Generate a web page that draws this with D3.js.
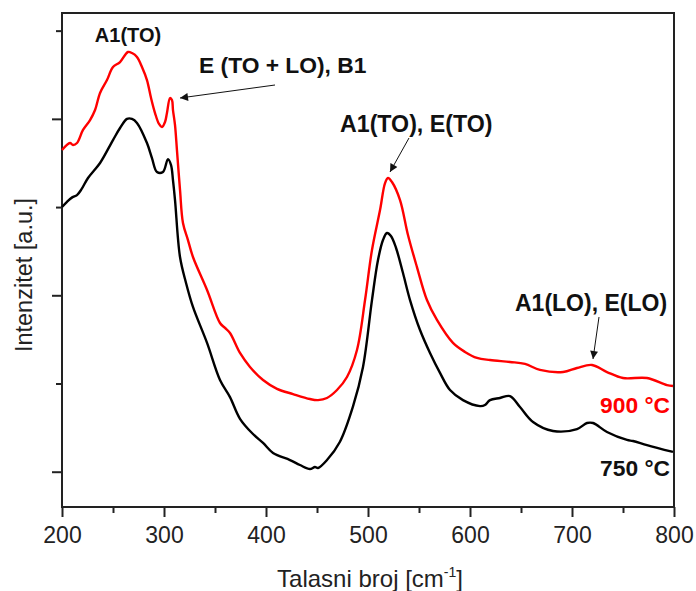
<!DOCTYPE html>
<html><head><meta charset="utf-8">
<script src="https://cdn.jsdelivr.net/npm/d3@7/dist/d3.min.js"></script>
<style>body{margin:0;background:#fff}svg{display:block}text{font-family:"Liberation Sans",Arial,sans-serif}</style>
</head><body><svg id="c" width="696" height="591"></svg>
<script>
// wavenumber (cm-1) and intensity (a.u.)
const wn750 = [200,204.9,210,214.7,219,225.5,237.3,250,256.9,263.7,268.6,273.5,283.3,288.2,293.1,299,303.9,306.9,308.8,310.8,315.7,321.6,328.4,342.2,354.9,364.7,374.5,387,397.1,406.9,423.5,433.3,443.1,448,451,459.8,472.5,485.3,495.1,503.9,509.8,514.7,518.6,522.5,527.5,534.3,541.2,551,560.8,570.6,580.4,593.1,609.8,614.7,619.6,629.4,639.2,649,661.8,681.4,704.9,714.7,720.6,734.3,753.9,759.8,773.5,799];
const int750 = [2500,2530,2555,2568,2600,2665,2750,2880,2948,3000,3000,2977,2863,2778,2699,2699,2772,2738,2653,2540,2217,2070,1934,1730,1520,1423,1300,1215,1163,1106,1066,1038,1015,1027,1021,1066,1170,1370,1594,1973,2200,2313,2353,2336,2268,2126,1973,1803,1673,1560,1463,1406,1372,1378,1406,1418,1429,1367,1282,1231,1242,1276,1276,1225,1180,1174,1151,1112];
const wn900 = [200,207.8,210.8,214.7,220.6,227.5,232.4,237.3,244.1,250,256.9,264.7,268.6,273.5,278.4,283.3,287.3,291.2,295.1,298,301,302.9,305.9,307.8,308.8,310.8,312.7,315.7,318.6,323.5,328.4,342.2,354.9,359.8,364.7,374.5,384.3,397.1,410.8,426.5,443.1,451,459.8,469.6,479.4,489.2,497.1,503.9,511.8,516.7,519.6,523.5,531.4,539.2,548,557.8,567.6,583.3,595.1,606.9,619.6,639.2,653.9,668.6,691.2,704.9,719.6,734.3,750,773.5,793.1,799];
const int900 = [2823,2863,2852,2863,2937,2993,3050,3147,3220,3294,3322,3379,3373,3351,3294,3220,3118,3033,2971,2954,2982,3033,3118,3107,3050,2965,2823,2597,2410,2313,2217,2030,1843,1815,1786,1673,1594,1520,1470,1440,1412,1406,1418,1463,1537,1690,1973,2257,2483,2636,2665,2642,2540,2342,2160,1973,1860,1730,1679,1645,1633,1622,1611,1577,1565,1588,1605,1565,1531,1531,1491,1486];
const xTicks = [200,300,400,500,600,700,800];
const xMinor = [250,350,450,550,650,750];
const yMajor = [1000,2000,3000];
const yMinor = [1500,2500,3500];

const svg = d3.select("#c");
const L = 62, R = 674, T = 13, B = 507;
const x = d3.scaleLinear().domain([200,800]).range([L,R]);
const y = d3.scaleLinear().domain([800,3600]).range([B,T]);

// frame
svg.append("rect").attr("x",L).attr("y",T).attr("width",R-L).attr("height",B-T)
  .attr("fill","none").attr("stroke","#222").attr("stroke-width",2);

// x axis
const gx = svg.append("g").attr("transform",`translate(0,${B})`)
  .call(d3.axisBottom(x).tickValues(xTicks).tickSize(10).tickPadding(10).tickFormat(d3.format("d")));
svg.append("g").attr("transform",`translate(0,${B})`)
  .call(d3.axisBottom(x).tickValues(xMinor).tickSize(6).tickFormat(""));
// y axis
svg.append("g").attr("transform",`translate(${L},0)`)
  .call(d3.axisLeft(y).tickValues(yMajor).tickSize(10).tickFormat(""));
svg.append("g").attr("transform",`translate(${L},0)`)
  .call(d3.axisLeft(y).tickValues(yMinor).tickSize(6).tickFormat(""));
svg.selectAll(".domain").remove();
svg.selectAll(".tick line").attr("stroke","#222").attr("stroke-width",2);
gx.selectAll(".tick text").attr("font-size",23).attr("fill","#222")
  .style("font-family","'Liberation Sans',Arial,sans-serif");

// curves
const line = d3.line().x(d=>x(d[0])).y(d=>y(d[1])).curve(d3.curveCatmullRom.alpha(0.5));
svg.append("path").datum(wn750.map((w,i)=>[w,int750[i]]))
  .attr("d",line).attr("fill","none").attr("stroke","#000").attr("stroke-width",2.4);
svg.append("path").datum(wn900.map((w,i)=>[w,int900[i]]))
  .attr("d",line).attr("fill","none").attr("stroke","#ff0000").attr("stroke-width",2.4);

// axis titles
svg.append("text").attr("x",370).attr("y",587).attr("text-anchor","middle")
  .attr("font-size",24).attr("fill","#222")
  .html('Talasni broj [cm<tspan dy="-10" font-size="14">-1</tspan><tspan dy="10">]</tspan>');
svg.append("text").attr("transform","translate(32,275) rotate(-90)").attr("text-anchor","middle")
  .attr("font-size",23.5).attr("fill","#222").text("Intenzitet [a.u.]");

// annotations
const ann = (t,xx,yy,anchor,color,size) => svg.append("text").attr("x",xx).attr("y",yy)
  .attr("text-anchor",anchor).attr("font-size",size).attr("font-weight","bold").attr("fill",color).text(t);
ann("A1(TO)",128,42,"middle","#111",20);
ann("E (TO + LO), B1",199,73,"start","#111",22.8);
ann("A1(TO), E(TO)",340,132,"start","#111",23.2);
ann("A1(LO), E(LO)",515,311,"start","#111",23);
ann("900 °C",670,413,"end","#ff0000",22.8);
ann("750 °C",670,476,"end","#111",22.8);

// arrows
svg.append("defs").append("marker").attr("id","ah").attr("viewBox","0 0 10 10")
  .attr("refX",10).attr("refY",5).attr("markerWidth",13).attr("markerHeight",8)
  .attr("markerUnits","userSpaceOnUse").attr("orient","auto")
  .append("path").attr("d","M0,0L10,5L0,10z").attr("fill","#111");
const arrows = [[275,85,180,98],[409,138,390,172],[599,317,593,359]];
arrows.forEach(a=>svg.append("line").attr("x1",a[0]).attr("y1",a[1]).attr("x2",a[2]).attr("y2",a[3])
  .attr("stroke","#111").attr("stroke-width",1).attr("marker-end","url(#ah)"));
</script></body></html>
